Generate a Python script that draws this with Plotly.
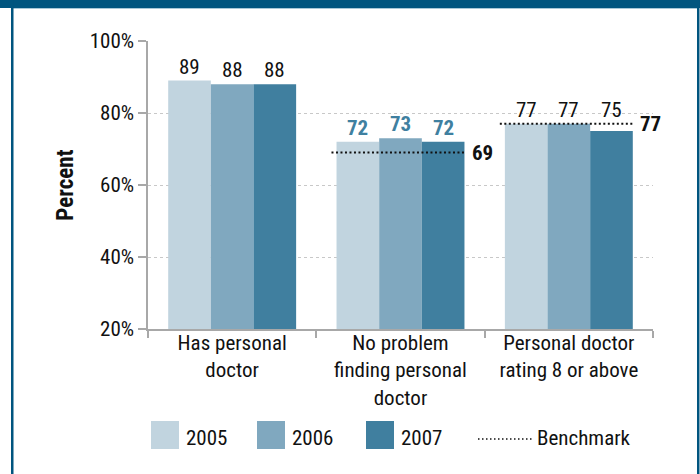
import plotly.graph_objects as go

categories = ["Has personal<br>doctor", "No problem<br>finding personal<br>doctor", "Personal doctor<br>rating 8 or above"]
years = ["2005", "2006", "2007"]
values = {
    "2005": [89, 72, 77],
    "2006": [88, 73, 77],
    "2007": [88, 72, 75],
}
benchmarks = [None, 69, 77]
highlight = [False, True, False]
y_ticks = [20, 40, 60, 80, 100]
y_tick_labels = ["20%", "40%", "60%", "80%", "100%"]

colors = {"2005": "#C1D4DF", "2006": "#80A8BF", "2007": "#407F9F"}
label_blue = "#3F80A0"
frame_blue = "#00557F"
FONT = "Liberation Sans Narrow, Roboto Condensed, Arial Narrow, sans-serif"
FS = 21
BARGAP = 0.24

# plot area in pixels
W, H = 700, 474
L, R, T, B = 148, 47, 41, 145
PW, PH = W - L - R, H - T - B
def px_x(px):
    return (px - L) / PW
def px_y(py):
    return (H - B - py) / PH

fig = go.Figure()
nser = len(years)
bw = (1 - BARGAP) / nser
for j, yr in enumerate(years):
    vals = values[yr]
    fig.add_trace(go.Bar(
        x=categories, y=vals, name=yr, marker=dict(color=colors[yr], line=dict(width=0)),
        showlegend=False,
    ))
    # value labels: placed above the bar, or above the benchmark line if higher
    for i, v in enumerate(vals):
        base = max(v, benchmarks[i] if benchmarks[i] is not None else v)
        txt = f"<b>{v}</b>" if highlight[i] else str(v)
        col = label_blue if highlight[i] else "#111111"
        fig.add_annotation(x=i + (j - (nser - 1) / 2) * bw, y=base, xref="x2", yref="y",
                           text=txt, showarrow=False, yanchor="bottom", yshift=0,
                           font=dict(size=FS, color=col, family=FONT))

# benchmark lines on overlay numeric axis
bx, by = [], []
for i, b in enumerate(benchmarks):
    if b is None:
        continue
    bx += [i - 0.41, i + 0.378, None]
    by += [b, b, None]
    fig.add_annotation(x=i + 0.378, y=b, xref="x2", yref="y", text=f"<b>{b}</b>",
                       showarrow=False, xanchor="left", xshift=6,
                       font=dict(size=FS, color="#111111", family=FONT))
fig.add_trace(go.Scatter(x=bx, y=by, xaxis="x2", mode="lines",
                         line=dict(color="#111111", width=2, dash="2px,2.5px"),
                         showlegend=False, hoverinfo="skip"))

shapes = []
# frame
shapes.append(dict(type="rect", xref="paper", yref="paper", x0=px_x(0), x1=px_x(W), y0=px_y(8), y1=px_y(-2),
                   fillcolor=frame_blue, line=dict(width=0), layer="below"))
shapes.append(dict(type="line", xref="paper", yref="paper", x0=px_x(13), x1=px_x(697), y0=px_y(8.5), y1=px_y(8.5),
                   line=dict(color="#A8C8D8", width=1), layer="below"))
shapes.append(dict(type="rect", xref="paper", yref="paper", x0=px_x(11), x1=px_x(13.5), y0=px_y(H + 2), y1=px_y(0),
                   fillcolor=frame_blue, line=dict(width=0), layer="below"))
shapes.append(dict(type="rect", xref="paper", yref="paper", x0=px_x(697), x1=px_x(699.5), y0=px_y(H + 2), y1=px_y(0),
                   fillcolor=frame_blue, line=dict(width=0), layer="below"))

# manual legend
legend_sq_x = [151, 257, 366]
for yr, sx in zip(years, legend_sq_x):
    shapes.append(dict(type="rect", xref="paper", yref="paper", x0=px_x(sx), x1=px_x(sx + 28),
                       y0=px_y(449), y1=px_y(421), fillcolor=colors[yr], line=dict(width=0)))
    fig.add_annotation(xref="paper", yref="paper", x=px_x(sx + 33), y=px_y(452), text=yr,
                       showarrow=False, xanchor="left", yanchor="bottom",
                       font=dict(size=FS, color="#111111", family=FONT))
shapes.append(dict(type="line", xref="paper", yref="paper", x0=px_x(478), x1=px_x(533),
                   y0=px_y(439), y1=px_y(439), line=dict(color="#111111", width=1.5, dash="1.5px,2.5px")))
fig.add_annotation(xref="paper", yref="paper", x=px_x(535), y=px_y(452), text="Benchmark",
                   showarrow=False, xanchor="left", yanchor="bottom",
                   font=dict(size=FS, color="#111111", family=FONT))

fig.update_layout(
    width=W, height=H,
    margin=dict(l=L, r=R, t=T, b=B, pad=0, autoexpand=False),
    paper_bgcolor="white", plot_bgcolor="white",
    barmode="group", bargap=BARGAP, bargroupgap=0,
    font=dict(family=FONT, size=FS, color="#111111"),
    shapes=shapes,
    xaxis=dict(type="category", range=[-0.5, 2.5], tickson="boundaries", ticks="outside", automargin=False,
               ticklen=7, ticklabelstandoff=-6, tickcolor="#A8A8A8", tickwidth=1.5, showline=True,
               linecolor="#A8A8A8", linewidth=1.5, showgrid=False,
               tickfont=dict(size=FS, family=FONT, color="#111111")),
    xaxis2=dict(overlaying="x", range=[-0.5, 2.5], visible=False),
    yaxis=dict(range=[20, 100], tickvals=y_ticks, ticktext=y_tick_labels, ticks="outside", ticklen=8,
               automargin=False,
               tickcolor="#A8A8A8", tickwidth=1.5, showline=True, linecolor="#A8A8A8", linewidth=1.5,
               showgrid=True, gridcolor="#C8C8C8", griddash="dot", gridwidth=1, zeroline=False,
               tickfont=dict(size=FS, family=FONT, color="#111111"),
               title=dict(text="<b>Percent</b>", font=dict(size=23, family=FONT, color="#111111"), standoff=10)),
)

fig.write_html("out.html", config={"displayModeBar": False},
               post_script="document.body.style.margin='0';document.body.style.overflow='hidden';")
